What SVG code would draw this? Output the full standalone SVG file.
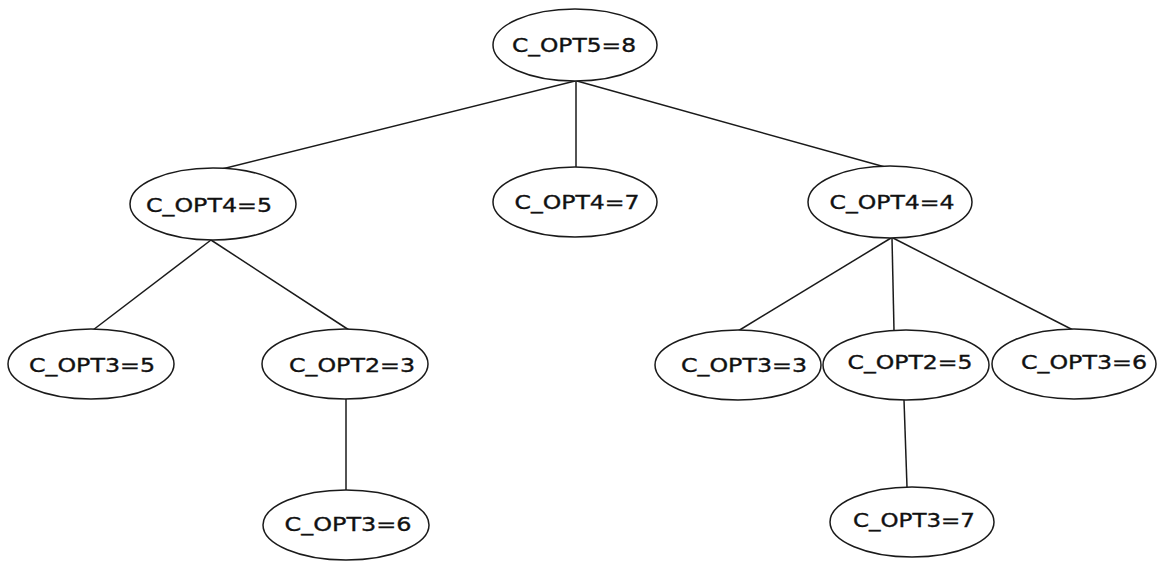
<svg xmlns="http://www.w3.org/2000/svg" width="1157" height="561" viewBox="0 0 1157 561">
<style>
.n ellipse{fill:#fff;stroke:#1a1a1a;stroke-width:1.5}
.n text{font-family:"DejaVu Sans",Verdana,sans-serif;font-size:19px;fill:#111;stroke:#111;stroke-width:0.35;text-anchor:middle}
.e line{stroke:#1a1a1a;stroke-width:1.5}
</style>
<rect width="1157" height="561" fill="#fff"/>
<g class="e" id="connectors">
<line x1="575" y1="81" x2="222" y2="169"/>
<line x1="576" y1="81" x2="576" y2="167"/>
<line x1="577" y1="81" x2="885" y2="167"/>
<line x1="211" y1="240" x2="93" y2="330"/>
<line x1="211" y1="240" x2="349" y2="330"/>
<line x1="346" y1="399" x2="346" y2="490"/>
<line x1="891" y1="238" x2="738" y2="331"/>
<line x1="892" y1="238" x2="894" y2="330"/>
<line x1="893" y1="238" x2="1075" y2="331"/>
<line x1="904" y1="400" x2="907" y2="487"/>
</g>
<g class="n" id="n_root"><ellipse cx="575" cy="45" rx="82" ry="36"/><text x="574" y="52" textLength="124" lengthAdjust="spacingAndGlyphs">C_OPT5=8</text></g>
<g class="n" id="n_l"><ellipse cx="213" cy="204" rx="83" ry="36"/><text x="209" y="212" textLength="126" lengthAdjust="spacingAndGlyphs">C_OPT4=5</text></g>
<g class="n" id="n_m"><ellipse cx="575" cy="202" rx="82" ry="35"/><text x="577" y="209" textLength="125" lengthAdjust="spacingAndGlyphs">C_OPT4=7</text></g>
<g class="n" id="n_r"><ellipse cx="890" cy="202" rx="82" ry="36"/><text x="892" y="209" textLength="125" lengthAdjust="spacingAndGlyphs">C_OPT4=4</text></g>
<g class="n" id="n_ll"><ellipse cx="91" cy="364" rx="83" ry="35"/><text x="92" y="372" textLength="126" lengthAdjust="spacingAndGlyphs">C_OPT3=5</text></g>
<g class="n" id="n_lr"><ellipse cx="345" cy="364" rx="83" ry="35"/><text x="352" y="372" textLength="126" lengthAdjust="spacingAndGlyphs">C_OPT2=3</text></g>
<g class="n" id="n_lrc"><ellipse cx="346" cy="525" rx="83" ry="35"/><text x="348" y="531" textLength="127" lengthAdjust="spacingAndGlyphs">C_OPT3=6</text></g>
<g class="n" id="n_r1"><ellipse cx="738" cy="365" rx="83" ry="35"/><text x="744" y="372" textLength="126" lengthAdjust="spacingAndGlyphs">C_OPT3=3</text></g>
<g class="n" id="n_r2"><ellipse cx="906" cy="365" rx="83" ry="35"/><text x="910" y="369" textLength="125" lengthAdjust="spacingAndGlyphs">C_OPT2=5</text></g>
<g class="n" id="n_r3"><ellipse cx="1074" cy="364" rx="82" ry="35"/><text x="1084" y="369" textLength="126" lengthAdjust="spacingAndGlyphs">C_OPT3=6</text></g>
<g class="n" id="n_r2c"><ellipse cx="912" cy="522" rx="82" ry="35"/><text x="914" y="527" textLength="122" lengthAdjust="spacingAndGlyphs">C_OPT3=7</text></g>
</svg>
